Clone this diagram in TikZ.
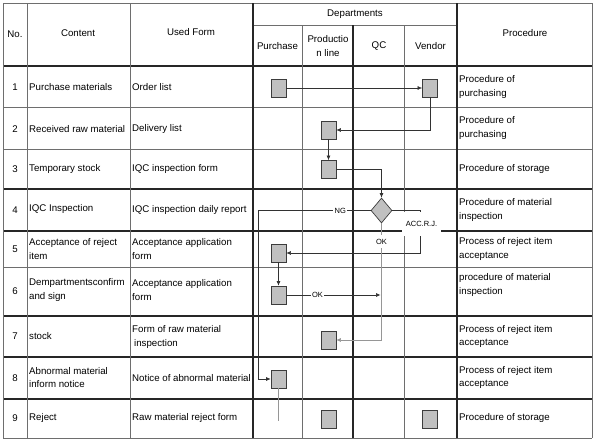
\documentclass[tikz,border=0pt]{standalone}
\usepackage{fontspec}
\setmainfont{Liberation Sans}
\usepackage{tikz}
\usetikzlibrary{shapes.geometric,arrows.meta}
\definecolor{gridline}{RGB}{110,110,110}
\definecolor{boxfill}{RGB}{192,192,192}
\definecolor{boxedge}{RGB}{60,60,60}
\definecolor{flowline}{RGB}{50,50,50}
\definecolor{paleline}{RGB}{150,150,150}
\tikzset{
  thinrule/.style={draw=gridline,line width=0.7pt},
  boldrule/.style={draw=black!85,line width=1.1pt},
  hd/.style={inner sep=0pt,align=center},
  num/.style={inner sep=0pt},
  txt/.style={anchor=west,align=left,inner sep=0pt},
  formbox/.style={draw=boxedge,fill=boxfill,line width=0.7pt,minimum width=15pt,minimum height=18pt,inner sep=0pt},
  decide/.style={diamond,draw=boxedge,fill=boxfill,line width=0.7pt,minimum width=21pt,minimum height=25pt,inner sep=0pt},
  flow/.style={draw=flowline,line width=0.6pt,-{Latex[length=4.5pt,width=4pt]}},
  plain/.style={draw=flowline,line width=0.6pt},
  tag/.style={fill=white,inner sep=1.5pt,font=\fontsize{7.5}{9}\selectfont},
}

\begin{document}
\begin{tikzpicture}[x=1pt,y=-1pt,font=\fontsize{9.7}{13.5}\selectfont]
  \useasboundingbox (0,0) rectangle (596,442);
  % table rules
  \draw[thinrule] (3,3) -- (592,3) (253,25) -- (457,25);
  \draw[thinrule] (3,107) -- (592,107) (3,149) -- (592,149)
                  (3,267) -- (592,267) (3,438) -- (592,438);
  \draw[boldrule] (3,66) -- (592,66) (3,189) -- (592,189) (3,231) -- (592,231)
                  (3,316) -- (592,316) (3,357) -- (592,357) (3,399) -- (592,399);
  \draw[thinrule] (3,3) -- (3,438) (27,3) -- (27,438) (130,3) -- (130,438)
                  (302,25) -- (302,438) (404,25) -- (404,438) (592,3) -- (592,438);
  \draw[boldrule] (253,3) -- (253,438) (353,25) -- (353,438) (457,3) -- (457,438);

  % header
  \node[hd] (hno) at (15,34) {No.};
  \node[hd] (hcont) at (78,33) {Content};
  \node[hd] (hform) at (191,32) {Used Form};
  \node[hd] (hdep) at (355,14) {Departments};
  \node[hd] (hpur) at (277.5,46) {Purchase};
  \node[hd] (hline) at (328,46) {Productio\\n line};
  \node[hd] (hqc) at (379,46) {QC};
  \node[hd] (hven) at (430.5,46) {Vendor};
  \node[hd] (hproc) at (525,33) {Procedure};

  % rows: number, content, form, procedure
  \node[num] (n1) at (15,87) {1};
  \node[txt] (c1) at (29,87) {Purchase materials};
  \node[txt] (f1) at (132,87) {Order list};
  \node[txt] (p1) at (459,87) {Procedure of\\purchasing};
  \node[num] (n2) at (15,129) {2};
  \node[txt] (c2) at (29,129) {Received raw material};
  \node[txt] (f2) at (132,129) {Delivery list};
  \node[txt] (p2) at (459,128) {Procedure of\\purchasing};
  \node[num] (n3) at (15,169) {3};
  \node[txt] (c3) at (29,169) {Temporary stock};
  \node[txt] (f3) at (132,169) {IQC inspection form};
  \node[txt] (p3) at (459,169) {Procedure of storage};
  \node[num] (n4) at (15,210) {4};
  \node[txt] (c4) at (29,209) {IQC Inspection};
  \node[txt] (f4) at (132,210) {IQC inspection daily report};
  \node[txt] (p4) at (459,210) {Procedure of material\\inspection};
  \node[num] (n5) at (15,249) {5};
  \node[txt] (c5) at (29,249) {Acceptance of reject\\item};
  \node[txt] (f5) at (132,249) {Acceptance application\\form};
  \node[txt] (p5) at (459,249) {Process of reject item\\acceptance};
  \node[num] (n6) at (15,291) {6};
  \node[txt] (c6) at (29,290) {Dempartmentsconfirm\\and sign};
  \node[txt] (f6) at (132,290) {Acceptance application\\form};
  \node[txt] (p6) at (459,285) {procedure of material\\inspection};
  \node[num] (n7) at (15,336) {7};
  \node[txt] (c7) at (29,336) {stock};
  \node[txt] (f7) at (132,337) {Form of raw material\\\hspace*{2pt}inspection};
  \node[txt] (p7) at (459,336.5) {Process of reject item\\acceptance};
  \node[num] (n8) at (15,378) {8};
  \node[txt] (c8) at (29,377.5) {Abnormal material\\inform notice};
  \node[txt] (f8) at (132,378.5) {Notice of abnormal material};
  \node[txt] (p8) at (459,377.5) {Process of reject item\\acceptance};
  \node[num] (n9) at (15,418) {9};
  \node[txt] (c9) at (29,418) {Reject};
  \node[txt] (f9) at (132,418) {Raw material reject form};
  \node[txt] (p9) at (459,418) {Procedure of storage};

  % flow boxes
  \node[formbox] (b1p) at (278.5,88) {};
  \node[formbox] (b1v) at (430,88) {};
  \node[formbox] (b2l) at (328.5,130) {};
  \node[formbox] (b3l) at (328.5,169.5) {};
  \node[decide] (dq) at (381.5,210.5) {};
  \node[formbox] (b5p) at (278.5,253) {};
  \node[formbox] (b6p) at (278.5,295) {};
  \node[formbox] (b7l) at (328.5,340) {};
  \node[formbox] (b8p) at (278.5,379) {};
  \node[formbox] (b9l) at (328.5,419.5) {};
  \node[formbox] (b9v) at (430,419.5) {};
  \coordinate (ngturn) at (258,210.5);
  \coordinate (accturn) at (420,253);
  \coordinate (okend) at (380.5,295);
  \coordinate (qcturn) at (381.5,340);
  \coordinate (rejend) at (278.5,421);

  % connectors
  \draw[flow] (b1p) -- (b1v);
  \draw[flow] (b1v.south) |- (b2l.east);
  \draw[flow] (b2l) -- (b3l);
  \draw[flow] (b3l.east) -| (dq.north);
  \draw[flow] (dq.west) -- node[tag,pos=0.27] (ng) {NG} (ngturn) |- (b8p.west);
  \draw[flow] (dq.east) -| (accturn) -- (b5p.east);
  \draw[flow] (b5p) -- (b6p);
  \draw[flow] (b6p.east) -- node[tag,pos=0.33] (okr) {OK} (okend);
  \draw[flow,draw=paleline] (dq.south) -- (qcturn) -- (b7l.east);
  \draw[plain,draw=paleline] (b8p.south) -- (rejend);
  \node[tag,minimum width=39pt,minimum height=24pt] (acc) at (421.5,224) {ACC.R.J.};
  \node[tag,minimum height=13pt] (okq) at (381.5,241.5) {OK};
\end{tikzpicture}
\end{document}
